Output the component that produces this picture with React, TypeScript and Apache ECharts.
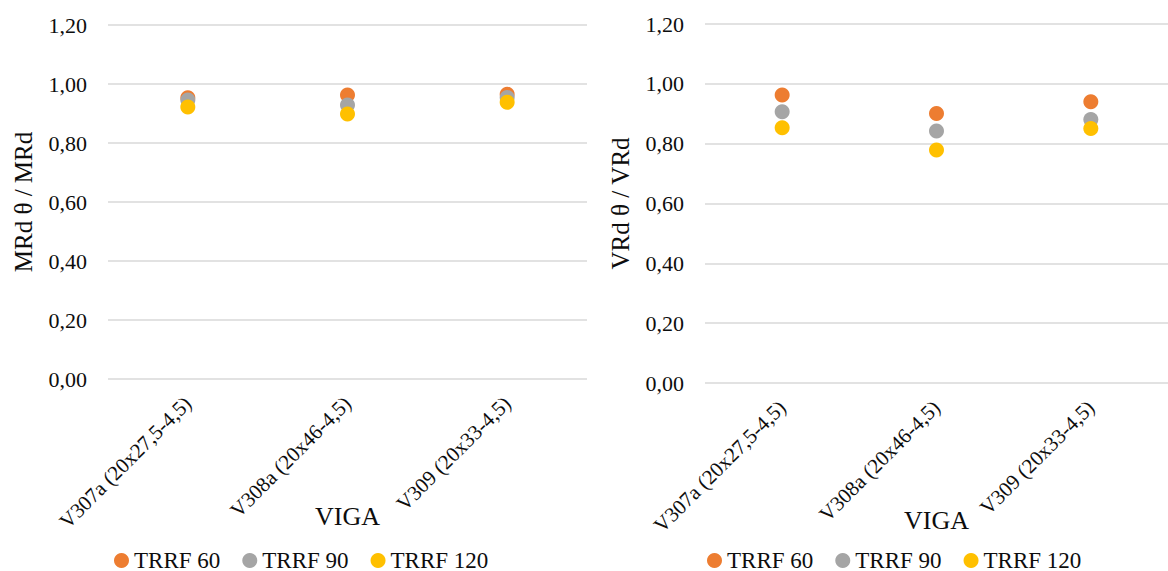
import React, { useEffect, useRef } from "react";
import * as echarts from "echarts";

const categories = ["V307a (20x27,5-4,5)", "V308a (20x46-4,5)", "V309 (20x33-4,5)"];
const seriesNames = ["TRRF 60", "TRRF 90", "TRRF 120"];
const colors = ["#ED7D31", "#A5A5A5", "#FFC000"];
const momentValues = [
  [0.953, 0.963, 0.965],
  [0.946, 0.929, 0.954],
  [0.922, 0.898, 0.938],
];
const shearValues = [
  [0.963, 0.901, 0.94],
  [0.907, 0.842, 0.881],
  [0.853, 0.779, 0.851],
];
const yTicks = { min: 0, max: 1.2, interval: 0.2 };

const FONT = "Liberation Serif";
const TEXT = "#0d0d0d";

export default function App() {
  const ref = useRef<HTMLDivElement>(null);
  useEffect(() => {
    if (!ref.current) return;
    const chart = echarts.init(ref.current, undefined, { renderer: "svg" });
    const fmt = (v: number) => v.toFixed(2).replace(".", ",");
    const yAxis = (name: string, gridIndex: number) => ({
      type: "value",
      gridIndex,
      min: yTicks.min,
      max: yTicks.max,
      interval: yTicks.interval,
      name,
      nameLocation: "middle",
      nameGap: 72,
      nameMoveOverlap: false,
      nameTextStyle: { fontFamily: FONT, fontSize: 25, color: TEXT },
      axisLine: { show: false },
      axisTick: { show: false },
      axisLabel: { formatter: fmt, fontFamily: FONT, fontSize: 22, color: TEXT, margin: 21 },
      splitLine: { lineStyle: { color: "#D9D9D9", width: 1.5 } },
    });
    const xAxis = (gridIndex: number) => ({
      type: "category",
      gridIndex,
      data: categories,
      name: "VIGA",
      nameLocation: "middle",
      nameGap: 124,
      nameMoveOverlap: false,
      nameTextStyle: { fontFamily: FONT, fontSize: 26, color: TEXT },
      axisLine: { show: false },
      axisTick: { show: false },
      axisLabel: { rotate: 45, interval: 0, fontFamily: FONT, fontSize: 21, color: TEXT, margin: 21 },
      splitLine: { show: false },
    });
    const makeSeries = (values: number[][], idx: number) =>
      seriesNames.map((n, i) => ({
        type: "scatter",
        name: n,
        xAxisIndex: idx,
        yAxisIndex: idx,
        data: values[i],
        symbol: "circle",
        symbolSize: 15,
        itemStyle: { color: colors[i], opacity: 1 },
      }));
    const legend = (left: number) => ({
      left,
      top: 544,
      data: seriesNames,
      icon: "circle",
      itemWidth: 15,
      itemHeight: 15,
      itemGap: 22,
      textStyle: { fontFamily: FONT, fontSize: 23, color: TEXT },
    });
    chart.setOption({
      animation: false,
      color: colors,
      grid: [
        { left: 108, top: 25, width: 479, height: 354 },
        { left: 705, top: 24, width: 474, height: 359 },
      ],
      xAxis: [xAxis(0), xAxis(1)],
      yAxis: [yAxis("MRd θ / MRd", 0), yAxis("VRd θ / VRd", 1)],
      legend: [legend(109), legend(702)],
      series: [...makeSeries(momentValues, 0), ...makeSeries(shearValues, 1)],
    });
    return () => chart.dispose();
  }, []);
  return (
    <div
      ref={ref}
      style={{ position: "absolute", left: 0, top: 0, width: 1168, height: 571, background: "#fff" }}
    />
  );
}
